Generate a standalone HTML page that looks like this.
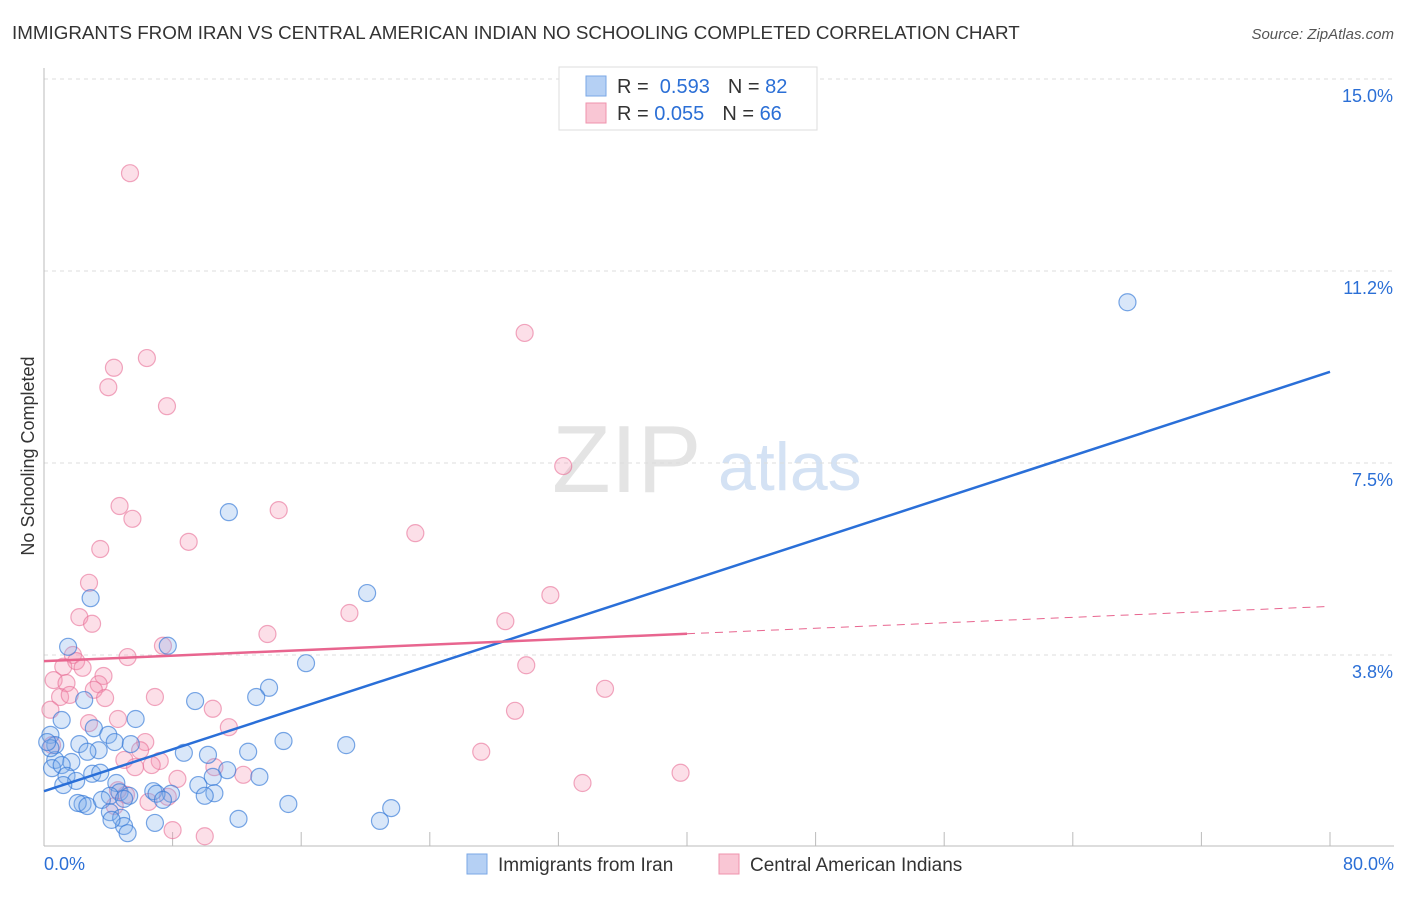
<!DOCTYPE html>
<html><head><meta charset="utf-8"><style>
body{margin:0;background:#fff;font-family:"Liberation Sans",sans-serif;}
svg text{font-family:"Liberation Sans",sans-serif;}
</style></head><body>
<svg width="1406" height="892" viewBox="0 0 1406 892">
<text x="12" y="39" font-size="18.8" fill="#333">IMMIGRANTS FROM IRAN VS CENTRAL AMERICAN INDIAN NO SCHOOLING COMPLETED CORRELATION CHART</text>
<text x="1394" y="39" font-size="15" fill="#555" font-style="italic" text-anchor="end">Source: ZipAtlas.com</text>
<text x="552" y="492" font-size="96" fill="#e4e4e4" font-family="Liberation Serif">ZIP</text>
<text x="718" y="490" font-size="68" fill="#d4e2f4">atlas</text>
<g id="grid"></g>
<g id="axes"></g>
<text transform="translate(34,456) rotate(-90)" font-size="18" fill="#333" text-anchor="middle">No Schooling Completed</text>
<g id="pts"></g>
<g id="lines"></g>
<g>
<rect x="559" y="67" width="258" height="63" fill="#fff" stroke="#ddd"/>
<rect x="586" y="76" width="20" height="20" fill="#b5d0f4" stroke="#7aa7e6"/>
<text x="617" y="93" font-size="20" fill="#333">R = <tspan fill="#2b6fd6">&#160;0.593</tspan><tspan dx="18">N = </tspan><tspan fill="#2b6fd6">82</tspan></text>
<rect x="586" y="103" width="20" height="20" fill="#f9c6d4" stroke="#ef93ad"/>
<text x="617" y="120" font-size="20" fill="#333">R = <tspan fill="#2b6fd6">0.055</tspan><tspan dx="18">N = </tspan><tspan fill="#2b6fd6">66</tspan></text>
</g>
<g>
<rect x="467" y="854" width="20" height="20" fill="#b5d0f4" stroke="#7aa7e6"/>
<text x="498" y="871" font-size="19" fill="#333">Immigrants from Iran</text>
<rect x="719" y="854" width="20" height="20" fill="#f9c6d4" stroke="#ef93ad"/>
<text x="750" y="871" font-size="19" fill="#333">Central American Indians</text>
</g>
</svg>
<script>
const yTicks=[3.75,7.5,11.25,15];
const yTickLabels=["3.8%","7.5%","11.2%","15.0%"];
const xTicks=[0,8,16,24,32,40,48,56,64,72,80];
const iranX=[67.4,11.5,20.1,2.9,1.5,7.7,16.3,14.0,9.4,13.2,2.5,1.1,5.7,3.1,4.0,0.4,2.2,4.4,5.4,14.9,18.8,8.7,12.7,10.2,3.4,2.7,0.7,1.7,0.5,1.1,11.4,10.5,13.4,1.4,3.0,3.5,2.0,1.2,4.5,9.6,6.8,7.9,7.0,4.7,5.3,4.1,7.4,10.6,10.0,4.98,2.4,2.1,2.7,3.6,15.2,21.6,4.1,4.8,4.98,4.2,6.9,12.1,20.9,5.2,0.7,0.4,0.2];
const iranY=[10.64,6.54,4.96,4.86,3.91,3.93,3.59,3.11,2.85,2.93,2.87,2.48,2.50,2.32,2.19,2.19,2.01,2.05,2.01,2.07,1.99,1.84,1.86,1.80,1.89,1.86,1.70,1.66,1.54,1.60,1.50,1.37,1.37,1.39,1.43,1.45,1.29,1.21,1.25,1.21,1.09,1.04,1.04,1.07,1.00,1.00,0.92,1.05,1.00,0.94,0.84,0.86,0.80,0.92,0.84,0.76,0.68,0.57,0.41,0.53,0.47,0.55,0.51,0.27,1.99,1.93,2.05];
const caiX=[5.35,29.9,6.4,4.35,4.0,7.65,32.3,4.7,14.6,5.5,23.1,9.0,3.5,2.8,31.5,19.0,2.2,2.99,28.7,13.9,7.4,5.2,1.8,2.0,1.2,2.4,30.0,3.7,0.6,1.4,3.4,3.1,34.9,1.0,1.6,3.8,6.9,10.5,29.3,0.4,2.8,4.6,11.5,0.5,6.3,5.98,27.2,5.0,7.2,6.7,5.66,10.6,8.3,12.4,39.6,33.5,5.1,7.7,6.5,4.4,8.0,10.0,4.6];
const caiY=[13.16,10.04,9.55,9.36,8.98,8.61,7.44,6.66,6.58,6.41,6.13,5.96,5.82,5.16,4.92,4.57,4.49,4.36,4.41,4.16,3.93,3.71,3.75,3.63,3.52,3.50,3.55,3.34,3.26,3.20,3.18,3.07,3.09,2.93,2.97,2.91,2.93,2.70,2.66,2.68,2.42,2.50,2.34,1.99,2.05,1.89,1.86,1.70,1.68,1.60,1.56,1.56,1.33,1.41,1.45,1.25,1.02,0.98,0.88,0.80,0.33,0.21,1.11];
const iranLine=[1.09,9.28];
const caiLine=[3.63,4.70];
const NS="http://www.w3.org/2000/svg";
const X=v=>44+v/80*1286, Y=v=>847-v*51.2;
function mk(tag,attrs,parent){const e=document.createElementNS(NS,tag);for(const k in attrs)e.setAttribute(k,attrs[k]);parent.appendChild(e);return e;}
const grid=document.getElementById('grid'),axes=document.getElementById('axes'),pts=document.getElementById('pts'),lines=document.getElementById('lines');
yTicks.forEach((t,i)=>{
 const g=mk('line',{x1:44,x2:1394,y1:Y(t),y2:Y(t),stroke:'#ddd','stroke-dasharray':'4,4'},grid);
 
 
 const tx=mk('text',{x:1393,y:Y(t)+23,'font-size':18,fill:'#2b6fd6','text-anchor':'end'},axes);
 tx.textContent=yTickLabels[i];
 
 
});
let a=mk('line',{x1:44,x2:44,y1:68,y2:846,stroke:'#bbb'},axes);


a=mk('line',{x1:44,x2:1394,y1:846,y2:846,stroke:'#bbb'},axes);


xTicks.forEach(t=>{
 const l=mk('line',{x1:X(t),x2:X(t),y1:832,y2:846,stroke:'#bbb'},axes);
 
 
});
let t0=mk('text',{x:44,y:870,'font-size':18,fill:'#2b6fd6'},axes);t0.textContent='0.0%';


let t1=mk('text',{x:1394,y:870,'font-size':18,fill:'#2b6fd6','text-anchor':'end'},axes);t1.textContent='80.0%';


caiX.forEach((x,i)=>{
 const c=mk('circle',{cx:X(x),cy:Y(caiY[i]),r:8.5,fill:'rgba(244,150,178,0.3)',stroke:'rgba(232,110,150,0.6)','stroke-width':1.2},pts);
 
 
});
iranX.forEach((x,i)=>{
 const c=mk('circle',{cx:X(x),cy:Y(iranY[i]),r:8.5,fill:'rgba(130,175,235,0.3)',stroke:'rgba(50,120,215,0.65)','stroke-width':1.2},pts);
 
 
});
let l=mk('line',{x1:X(0),y1:Y(iranLine[0]),x2:X(80),y2:Y(iranLine[1]),stroke:'#2a6fd8','stroke-width':2.5},lines);


const mid=caiLine[0]+(caiLine[1]-caiLine[0])*40/80;
l=mk('line',{x1:X(0),y1:Y(caiLine[0]),x2:X(40),y2:Y(mid),stroke:'#e8658f','stroke-width':2.5},lines);


l=mk('line',{x1:X(40),y1:Y(mid),x2:X(80),y2:Y(caiLine[1]),stroke:'#e8658f','stroke-width':1,'stroke-dasharray':'8,6'},lines);


</script>
</body></html>
